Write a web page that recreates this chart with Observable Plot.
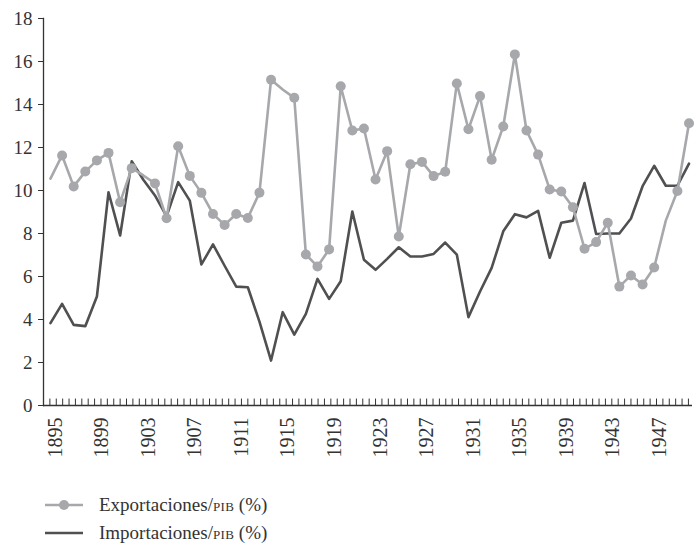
<!DOCTYPE html>
<html>
<head>
<meta charset="utf-8">
<script src="https://cdn.jsdelivr.net/npm/d3@7"></script>
<script src="https://cdn.jsdelivr.net/npm/@observablehq/plot@0.6"></script>
<style>
  html, body { margin: 0; padding: 0; background: #fff; }
  #chart { width: 694px; }
  .legend { font-family: "Liberation Serif", "DejaVu Serif", serif; font-size: 19px; color: #333; position: relative; height: 75px; }
  .legend .row { position: absolute; left: 0; height: 28px; display: flex; align-items: center; }
  .legend svg { margin-left: 44px; margin-right: 15px; }
  .sc { font-size: 13px; letter-spacing: 0.3px; }
</style>
</head>
<body>
<div id="chart"></div>
<script>
const years = [1895,1896,1897,1898,1899,1900,1901,1902,1903,1904,1905,1906,1907,1908,1909,1910,
  1911,1912,1913,1914,1915,1916,1917,1918,1919,1920,1921,1922,1923,1924,1925,1926,1927,1928,1929,1930,
  1931,1932,1933,1934,1935,1936,1937,1938,1939,1940,1941,1942,1943,1944,1945,1946,1947,1948,1949,1950];

const exportaciones = [10.55,11.63,10.19,10.88,11.4,11.75,9.45,11.04,10.7,10.33,8.71,12.06,10.68,9.89,8.91,8.4,
  8.91,8.72,9.9,15.15,14.7,14.31,7.02,6.47,7.26,14.85,12.79,12.88,10.51,11.83,7.86,11.22,11.33,10.67,10.87,14.98,
  12.85,14.39,11.43,12.98,16.33,12.79,11.67,10.05,9.95,9.22,7.29,7.6,8.5,5.53,6.05,5.63,6.42,8.6,9.98,13.13];

const importaciones = [3.83,4.73,3.75,3.69,5.07,9.92,7.91,11.36,10.5,9.77,8.8,10.39,9.53,6.56,7.49,6.5,
  5.53,5.5,3.9,2.09,4.34,3.3,4.26,5.89,4.96,5.78,9.02,6.78,6.31,6.82,7.36,6.93,6.93,7.05,7.58,7.02,
  4.11,5.3,6.4,8.1,8.9,8.75,9.05,6.87,8.5,8.6,10.35,7.98,8.0,8.0,8.7,10.2,11.15,10.22,10.22,11.25];

// years whose export point is drawn without a marker in the reference
const sinMarcador = [1895, 1903, 1915, 1948];

const xTickYears = [1895,1899,1903,1907,1911,1915,1919,1923,1927,1931,1935,1939,1943,1947];
const yTicks = [0,2,4,6,8,10,12,14,16,18];
const serieNames = ["Exportaciones/PIB (%)", "Importaciones/PIB (%)"];

const exportColor = "#a7a8ab";
const importColor = "#505052";
const font = "'Liberation Serif', 'DejaVu Serif', serif";

const expData = years.map((y, i) => ({year: y, value: exportaciones[i]}));
const impData = years.map((y, i) => ({year: y, value: importaciones[i]}));
const expDots = expData.filter(d => !sinMarcador.includes(d.year));

const xDomain = [1894.4, 1950.3];
const minorTicks = d3.range(xDomain[0] + 0.55, xDomain[1], 0.55);

const plot = Plot.plot({
  width: 694,
  height: 470,
  marginTop: 18,
  marginBottom: 65,
  marginLeft: 43,
  marginRight: 2,
  style: {fontFamily: font, fontSize: "19px", color: "#333", background: "white"},
  x: {domain: xDomain},
  y: {domain: [0, 18]},
  marks: [
    Plot.axisY({ticks: yTicks, tickSize: 5, tickPadding: 6, label: null, fontSize: 19, stroke: "#333"}),
    Plot.axisX({ticks: xTickYears, tickSize: 0, tickPadding: 12, tickRotate: -90, tickFormat: d => String(d), label: null, fontSize: 20, dx: 5}),
    Plot.ruleX(minorTicks, {x: d => d, y1: 0, y2: 0.3, stroke: "#333", strokeWidth: 1}),
    Plot.frame({anchor: "left", stroke: "#333", strokeWidth: 1.3}),
    Plot.ruleY([0], {stroke: "#333", strokeWidth: 1.3}),
    Plot.line(impData, {x: "year", y: "value", stroke: importColor, strokeWidth: 2.6}),
    Plot.line(expData, {x: "year", y: "value", stroke: exportColor, strokeWidth: 2.6}),
    Plot.dot(expDots, {x: "year", y: "value", r: 5, fill: exportColor, stroke: "none"})
  ]
});
document.getElementById("chart").appendChild(plot);

// legend
const legend = document.createElement("div");
legend.className = "legend";
serieNames.forEach((name, i) => {
  const row = document.createElement("div");
  row.className = "row";
  row.style.top = (21 + i * 28) + "px";
  const sw = d3.create("svg").attr("width", 40).attr("height", 12);
  sw.append("line").attr("x1", 1).attr("x2", 39).attr("y1", 6).attr("y2", 6)
    .attr("stroke", i === 0 ? exportColor : importColor).attr("stroke-width", 2.6);
  if (i === 0) sw.append("circle").attr("cx", 20).attr("cy", 6).attr("r", 5).attr("fill", exportColor);
  row.appendChild(sw.node());
  const label = document.createElement("span");
  const [pre, rest] = name.split("PIB");
  label.innerHTML = pre + '<span class="sc">PIB</span>' + rest;
  row.appendChild(label);
  legend.appendChild(row);
});
document.getElementById("chart").appendChild(legend);
</script>
</body>
</html>
